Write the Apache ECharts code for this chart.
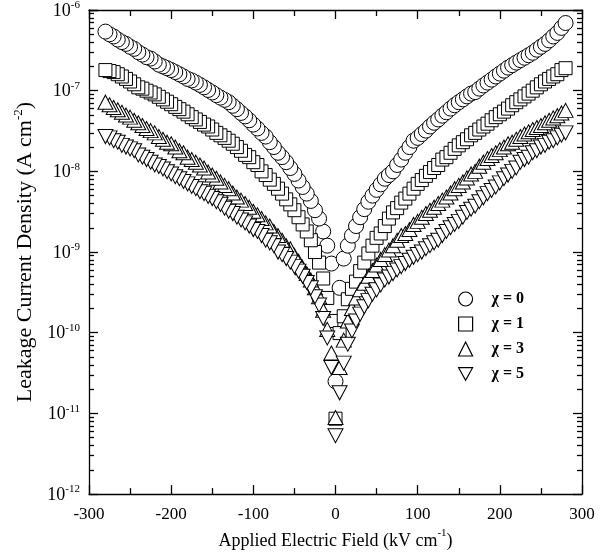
<!DOCTYPE html>
<html>
<head>
<meta charset="utf-8">
<script src="https://cdn.jsdelivr.net/npm/echarts@6/dist/echarts.min.js"></script>
<style>html,body{margin:0;padding:0;background:#fff;}#c{width:600px;height:555px;}</style>
</head>
<body>
<div id="c"></div>
<script>
// Applied electric field (kV/cm)
const fields = [-280,-275,-270,-265,-260,-255,-250,-245,-240,-235,-230,-225,-220,-215,-210,-205,-200,-195,-190,-185,-180,-175,-170,-165,-160,-155,-150,-145,-140,-135,-130,-125,-120,-115,-110,-105,-100,-95,-90,-85,-80,-75,-70,-65,-60,-55,-50,-45,-40,-35,-30,-25,-20,-15,-10,-5,0,5,10,15,20,25,30,35,40,45,50,55,60,65,70,75,80,85,90,95,100,105,110,115,120,125,130,135,140,145,150,155,160,165,170,175,180,185,190,195,200,205,210,215,220,225,230,235,240,245,250,255,260,265,270,275,280];

// Leakage current density (A/cm^2)
const chi0 = [5.4e-7,5.0e-7,4.7e-7,4.3e-7,4.0e-7,3.8e-7,3.5e-7,3.3e-7,3.0e-7,2.8e-7,2.6e-7,2.5e-7,2.3e-7,2.1e-7,2.0e-7,1.9e-7,1.8e-7,1.7e-7,1.6e-7,1.5e-7,1.4e-7,1.34e-7,1.26e-7,1.18e-7,1.1e-7,1.02e-7,9.5e-8,8.8e-8,8.2e-8,7.7e-8,7.2e-8,6.5e-8,5.9e-8,5.3e-8,4.8e-8,4.3e-8,3.8e-8,3.4e-8,3.0e-8,2.7e-8,2.3e-8,2.0e-8,1.7e-8,1.5e-8,1.3e-8,1.1e-8,9.3e-9,7.7e-9,6.4e-9,5.3e-9,4.3e-9,3.3e-9,2.6e-9,1.8e-9,1.2e-9,7.2e-10,2.5e-11,3.6e-10,8.3e-10,1.2e-9,1.6e-9,2.1e-9,2.7e-9,3.4e-9,4.2e-9,5.0e-9,5.9e-9,6.9e-9,8.1e-9,9.0e-9,1.0e-8,1.2e-8,1.4e-8,1.7e-8,2.0e-8,2.4e-8,2.6e-8,2.9e-8,3.2e-8,3.6e-8,4.0e-8,4.4e-8,4.9e-8,5.4e-8,6.0e-8,6.6e-8,7.2e-8,7.8e-8,8.5e-8,9.2e-8,9.6e-8,1.06e-7,1.16e-7,1.26e-7,1.37e-7,1.5e-7,1.63e-7,1.77e-7,1.93e-7,2.07e-7,2.23e-7,2.39e-7,2.56e-7,2.75e-7,2.95e-7,3.22e-7,3.5e-7,3.8e-7,4.2e-7,4.7e-7,5.2e-7,6.0e-7,6.9e-7];
const chi1 = [1.8e-7,1.75e-7,1.7e-7,1.6e-7,1.5e-7,1.4e-7,1.3e-7,1.2e-7,1.1e-7,1.06e-7,1.0e-7,9.5e-8,9.0e-8,8.4e-8,7.8e-8,7.3e-8,6.8e-8,6.3e-8,5.9e-8,5.5e-8,5.1e-8,4.7e-8,4.4e-8,4.1e-8,3.8e-8,3.6e-8,3.3e-8,3.0e-8,2.8e-8,2.6e-8,2.4e-8,2.2e-8,2.0e-8,1.8e-8,1.6e-8,1.5e-8,1.3e-8,1.2e-8,1.0e-8,9.0e-9,7.9e-9,7.0e-9,6.1e-9,5.3e-9,4.5e-9,3.9e-9,3.3e-9,2.7e-9,2.2e-9,1.8e-9,1.4e-9,1.0e-9,7.4e-10,4.7e-10,2.7e-10,1.4e-10,8.6e-12,9.9e-11,1.6e-10,2.6e-10,3.5e-10,4.3e-10,5.8e-10,7.4e-10,9.6e-10,1.2e-9,1.5e-9,1.7e-9,2.1e-9,2.6e-9,3.1e-9,3.5e-9,4.1e-9,4.6e-9,5.3e-9,6.1e-9,7.0e-9,7.8e-9,8.8e-9,9.8e-9,1.1e-8,1.2e-8,1.4e-8,1.5e-8,1.7e-8,1.9e-8,2.1e-8,2.3e-8,2.5e-8,2.8e-8,3.0e-8,3.3e-8,3.6e-8,3.9e-8,4.3e-8,4.7e-8,5.1e-8,5.5e-8,6.0e-8,6.6e-8,7.2e-8,7.8e-8,8.5e-8,9.2e-8,1.0e-7,1.1e-7,1.2e-7,1.3e-7,1.4e-7,1.5e-7,1.6e-7,1.8e-7,1.9e-7];
const chi3 = [7.2e-8,6.7e-8,6.2e-8,5.8e-8,5.4e-8,5.0e-8,4.7e-8,4.3e-8,4.0e-8,3.7e-8,3.4e-8,3.2e-8,3.0e-8,2.7e-8,2.5e-8,2.3e-8,2.2e-8,2.0e-8,1.8e-8,1.7e-8,1.5e-8,1.4e-8,1.3e-8,1.2e-8,1.1e-8,9.8e-9,9.0e-9,8.2e-9,7.4e-9,6.7e-9,6.1e-9,5.4e-9,4.8e-9,4.4e-9,4.0e-9,3.6e-9,3.2e-9,2.9e-9,2.6e-9,2.3e-9,2.1e-9,1.8e-9,1.6e-9,1.4e-9,1.2e-9,1.1e-9,9.1e-10,7.7e-10,6.4e-10,5.4e-10,4.5e-10,3.6e-10,2.8e-10,1.9e-10,1.1e-10,5.6e-11,8.9e-12,3.7e-11,8.1e-11,1.4e-10,2.0e-10,2.7e-10,3.4e-10,4.1e-10,5.0e-10,5.9e-10,6.9e-10,8.1e-10,9.3e-10,1.06e-9,1.2e-9,1.4e-9,1.6e-9,1.7e-9,1.9e-9,2.2e-9,2.4e-9,2.7e-9,3.0e-9,3.3e-9,3.6e-9,4.0e-9,4.4e-9,4.8e-9,5.4e-9,6.1e-9,6.7e-9,7.4e-9,8.3e-9,9.3e-9,1.0e-8,1.16e-8,1.3e-8,1.44e-8,1.57e-8,1.7e-8,1.86e-8,2.0e-8,2.2e-8,2.3e-8,2.5e-8,2.7e-8,2.9e-8,3.1e-8,3.3e-8,3.5e-8,3.7e-8,4.0e-8,4.3e-8,4.6e-8,4.9e-8,5.3e-8,5.7e-8];
const chi5 = [2.7e-8,2.6e-8,2.4e-8,2.3e-8,2.1e-8,2.0e-8,1.9e-8,1.8e-8,1.6e-8,1.5e-8,1.4e-8,1.3e-8,1.2e-8,1.15e-8,1.07e-8,9.9e-9,9.3e-9,8.6e-9,8.1e-9,7.5e-9,7.0e-9,6.5e-9,6.1e-9,5.6e-9,5.3e-9,4.9e-9,4.6e-9,4.2e-9,3.9e-9,3.5e-9,3.2e-9,3.0e-9,2.7e-9,2.5e-9,2.3e-9,2.1e-9,1.9e-9,1.8e-9,1.6e-9,1.4e-9,1.3e-9,1.2e-9,1.0e-9,9.3e-10,8.3e-10,7.5e-10,6.6e-10,5.8e-10,5.0e-10,4.2e-10,3.6e-10,2.8e-10,2.2e-10,1.5e-10,8.6e-11,3.7e-11,5.3e-12,1.8e-11,4.2e-11,7.2e-11,1.05e-10,1.4e-10,1.7e-10,2.1e-10,2.5e-10,3.0e-10,3.4e-10,3.9e-10,4.5e-10,4.9e-10,5.4e-10,6.0e-10,6.6e-10,7.2e-10,7.9e-10,8.6e-10,9.3e-10,1.0e-9,1.1e-9,1.2e-9,1.3e-9,1.4e-9,1.6e-9,1.8e-9,2.0e-9,2.2e-9,2.4e-9,2.7e-9,3.1e-9,3.4e-9,3.7e-9,4.2e-9,4.7e-9,5.3e-9,5.8e-9,6.4e-9,7.2e-9,8.1e-9,9.0e-9,1.0e-8,1.1e-8,1.3e-8,1.4e-8,1.5e-8,1.7e-8,1.8e-8,2.0e-8,2.1e-8,2.3e-8,2.4e-8,2.6e-8,2.8e-8,3.0e-8];

const seriesNames = ['χ = 0', 'χ = 1', 'χ = 3', 'χ = 5'];
const xTicks = [-300, -200, -100, 0, 100, 200, 300];
const yTickExponents = [-12, -11, -10, -9, -8, -7, -6];

const FONT = "'Liberation Serif', 'Times New Roman', serif";

// sweep order: from 0 outward on each side
const zeroIdx = fields.indexOf(0);
const order = [];
for (let i = zeroIdx; i >= 0; i--) order.push(i);
for (let i = zeroIdx + 1; i < fields.length; i++) order.push(i);
function toData(vals) { return order.map(i => [fields[i], vals[i]]); }

const symbols = ['circle', 'rect', 'triangle', 'path://M0,0L10,0L5,9Z'];
const sizes = [15, 13, [15, 14], [15, 14]];
const allVals = [chi0, chi1, chi3, chi5];

const xMin = xTicks[0];
const xMax = xTicks[xTicks.length - 1];
const yMin = Math.pow(10, yTickExponents[0]);
const yMax = Math.pow(10, yTickExponents[yTickExponents.length - 1]);

const series = allVals.map((v, k) => ({
  name: seriesNames[k],
  type: 'scatter',
  data: toData(v),
  symbol: symbols[k],
  symbolSize: sizes[k],
  itemStyle: { color: '#fff', borderColor: '#000', borderWidth: 1, opacity: 1 },
  emphasis: { disabled: true },
  z: 2 + k
}));

const yLabel = {
  show: true,
  margin: 9,
  fontFamily: FONT,
  formatter: function (val) {
    const e = Math.round(Math.log10(val));
    return yTickExponents.indexOf(e) >= 0 ? '{b|10}{s|' + e + '}' : '';
  },
  rich: {
    b: { fontFamily: FONT, fontSize: 18, color: '#000', verticalAlign: 'bottom', lineHeight: 20 },
    s: { fontFamily: FONT, fontSize: 11, color: '#000', verticalAlign: 'top', lineHeight: 20, padding: [0, 0, 8, 0] }
  }
};

const tickStyle = { color: '#000', width: 1.3 };

const baseY = {
  type: 'log',
  logBase: 10,
  min: yMin,
  max: yMax,
  axisLine: { show: true, onZero: false, lineStyle: { color: '#000', width: 1.3 } },
  axisTick: { show: true, inside: true, length: 9, lineStyle: tickStyle },
  minorTick: { show: true, splitNumber: 9, length: 5, lineStyle: tickStyle },
  splitLine: { show: false },
  minorSplitLine: { show: false }
};

const baseX = {
  type: 'value',
  min: xMin,
  max: xMax,
  interval: xTicks[1] - xTicks[0],
  axisLine: { show: true, onZero: false, lineStyle: { color: '#000', width: 1.3 } },
  axisTick: { show: true, inside: true, length: 9, lineStyle: tickStyle },
  minorTick: { show: true, splitNumber: 2, length: 6, lineStyle: tickStyle },
  splitLine: { show: false }
};

const option = {
  animation: false,
  backgroundColor: '#fff',
  grid: { left: 89, right: 18, top: 10, bottom: 58, containLabel: false },
  legend: {
    orient: 'vertical',
    left: 453,
    top: 286,
    itemWidth: 14,
    itemHeight: 14,
    itemGap: 9,
    data: seriesNames,
    itemStyle: { borderWidth: 1.2 },
    textStyle: { fontFamily: FONT, fontSize: 16, fontWeight: 'bold', color: '#000', padding: [0, 0, 0, 14] }
  },
  xAxis: [
    Object.assign({}, baseX, {
      position: 'bottom',
      name: '{a|Applied Electric Field (kV cm}{s|-1}{a|)}',
      nameLocation: 'middle',
      nameGap: 30,
      nameTextStyle: {
        rich: {
          a: { fontFamily: FONT, fontSize: 18, color: '#000', verticalAlign: 'bottom', lineHeight: 22 },
          s: { fontFamily: FONT, fontSize: 11, color: '#000', verticalAlign: 'top', lineHeight: 22, padding: [0, 0, 9, 0] }
        }
      },
      axisLabel: { show: true, margin: 12, fontFamily: FONT, fontSize: 17, color: '#000' }
    }),
    Object.assign({}, baseX, { position: 'top', axisLabel: { show: false } })
  ],
  yAxis: [
    Object.assign({}, baseY, {
      position: 'left',
      name: '{a|Leakage Current Density (A cm}{s|-2}{a|)}',
      nameLocation: 'middle',
      nameGap: 50,
      nameRotate: 90,
      nameTextStyle: {
        rich: {
          a: { fontFamily: FONT, fontSize: 22, color: '#000', verticalAlign: 'bottom', lineHeight: 24 },
          s: { fontFamily: FONT, fontSize: 13, color: '#000', verticalAlign: 'top', lineHeight: 24, padding: [0, 0, 10, 0] }
        }
      },
      axisLabel: yLabel
    }),
    Object.assign({}, baseY, { position: 'right', axisLabel: { show: false } })
  ],
  series: series
};

const chart = echarts.init(document.getElementById('c'), null, { renderer: 'canvas' });
chart.setOption(option);
</script>
</body>
</html>
